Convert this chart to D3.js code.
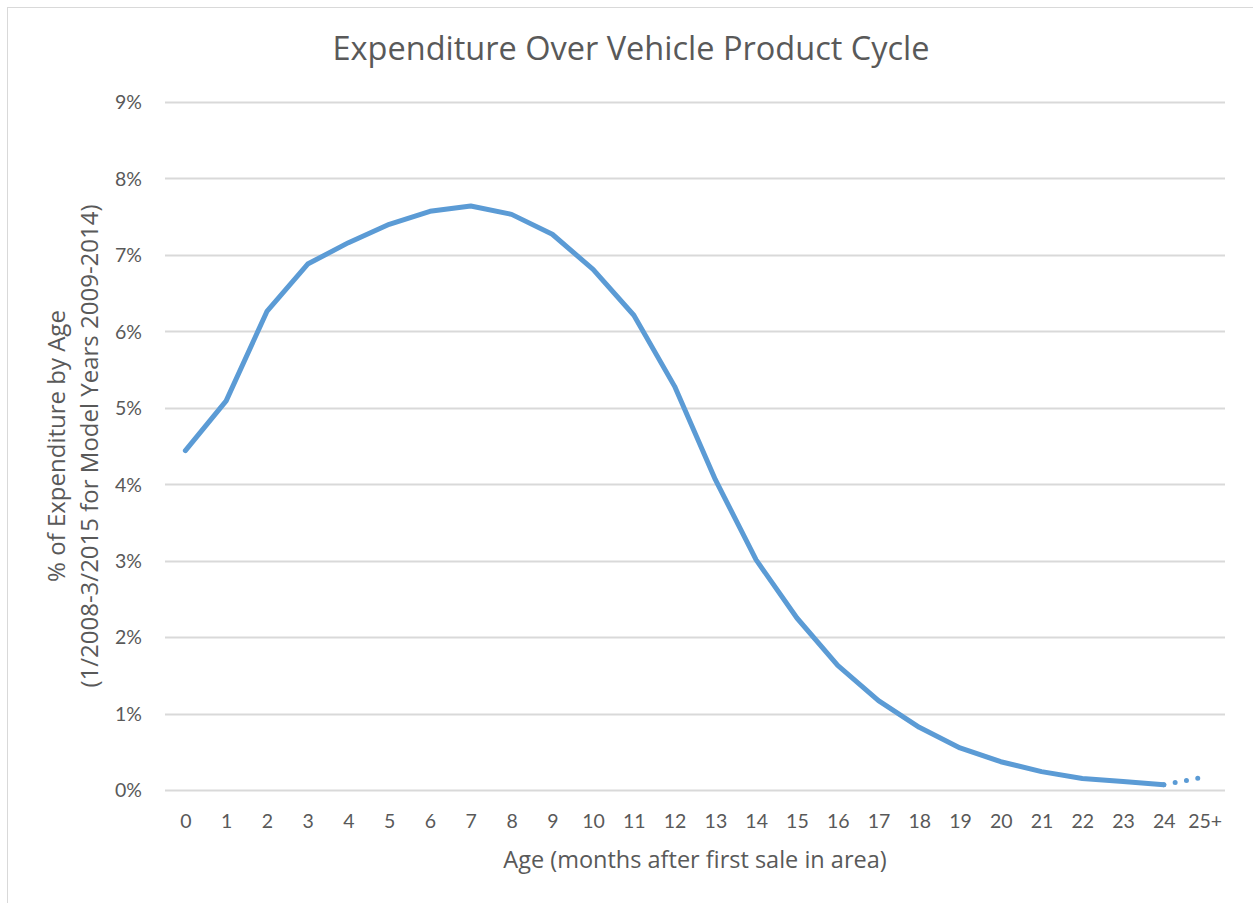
<!DOCTYPE html>
<html>
<head>
<meta charset="utf-8">
<script src="https://cdn.jsdelivr.net/npm/d3@7"></script>
<style>
  html, body { margin: 0; padding: 0; background: #fff; }
  svg { display: block; }
  text { font-family: Lato, "Open Sans", sans-serif; fill: #595959; }
  .ttl { font-family: "Open Sans", Lato, sans-serif; }
</style>
</head>
<body>
<script>
// ---- data ----
const categories = ["0","1","2","3","4","5","6","7","8","9","10","11","12","13","14","15","16","17","18","19","20","21","22","23","24","25+"];
const solidValues = [4.44, 5.09, 6.26, 6.88, 7.16, 7.40, 7.57, 7.64, 7.53, 7.27, 6.81, 6.21, 5.28, 4.06, 3.01, 2.25, 1.63, 1.17, 0.82, 0.55, 0.37, 0.24, 0.15, 0.11, 0.07];
const tailValue = 0.17;
const yTicks = [0,1,2,3,4,5,6,7,8,9];
const titleText = "Expenditure Over Vehicle Product Cycle";
const xTitle = "Age (months after first sale in area)";
const yTitleLines = ["% of Expenditure by Age", "(1/2008-3/2015 for Model Years 2009-2014)"];

// ---- layout ----
const W = 1253, H = 903;
const plot = { left: 165, right: 1225, top: 102, bottom: 790 };
const lineColor = "#5B9BD5";

const svg = d3.select("body").append("svg").attr("width", W).attr("height", H);

svg.append("rect").attr("x", 7.5).attr("y", 7.5).attr("width", W + 10).attr("height", H + 10)
  .attr("fill", "#fff").attr("stroke", "#d9d9d9").attr("stroke-width", 1);

const x = d3.scalePoint().domain(categories).range([plot.left, plot.right]).padding(0.5);
const y = d3.scaleLinear().domain([0, 9]).range([plot.bottom, plot.top]);

// gridlines
svg.append("g").selectAll("line").data(yTicks).join("line")
  .attr("x1", plot.left).attr("x2", plot.right)
  .attr("y1", d => Math.round(y(d)) + 0.5).attr("y2", d => Math.round(y(d)) + 0.5)
  .attr("stroke", "#d9d9d9").attr("stroke-width", 2);

// y axis labels
const yAxis = d3.axisLeft(y).tickValues(yTicks).tickFormat(d => d + "%").tickSize(0).tickPadding(0);
const gy = svg.append("g").attr("transform", `translate(${plot.left - 23},0)`).call(yAxis);
gy.select(".domain").remove();
gy.selectAll("text").style("font-size", "19.5px").attr("fill", "#595959").attr("dy", "0.35em");

// x axis labels
const xAxis = d3.axisBottom(x).tickSize(0).tickPadding(0);
const gx = svg.append("g").attr("transform", `translate(0,${plot.bottom + 24})`).call(xAxis);
gx.select(".domain").remove();
gx.selectAll("text").style("font-size", "19.5px").attr("fill", "#595959").attr("dy", "0.71em");

// line
const line = d3.line().x(d => x(d[0])).y(d => y(d[1]));
const solidData = solidValues.map((v, i) => [categories[i], v]);
svg.append("path").datum(solidData).attr("d", line)
  .attr("fill", "none").attr("stroke", lineColor).attr("stroke-width", 5)
  .attr("stroke-linejoin", "round").attr("stroke-linecap", "round");

const tailData = [[categories[24], solidValues[24]], [categories[25], tailValue]];
svg.append("path").datum(tailData).attr("d", line)
  .attr("fill", "none").attr("stroke", lineColor).attr("stroke-width", 5)
  .attr("stroke-linecap", "round").attr("stroke-dasharray", "0 11.5").attr("stroke-dashoffset", -11.5);

// titles
svg.append("text").attr("class", "ttl").attr("x", 631).attr("y", 60).attr("text-anchor", "middle")
  .style("font-size", "32.5px").text(titleText);

svg.append("text").attr("class", "ttl").attr("x", (plot.left + plot.right) / 2).attr("y", 868).attr("text-anchor", "middle")
  .style("font-size", "23.5px").text(xTitle);

const yt = svg.append("text").attr("class", "ttl").attr("transform", `translate(0,${(plot.top + plot.bottom) / 2}) rotate(-90)`)
  .attr("text-anchor", "middle").style("font-size", "24px");
yt.selectAll("tspan").data(yTitleLines).join("tspan")
  .attr("x", 0).attr("y", (d, i) => 65 + i * 33).text(d => d);
</script>
</body>
</html>
